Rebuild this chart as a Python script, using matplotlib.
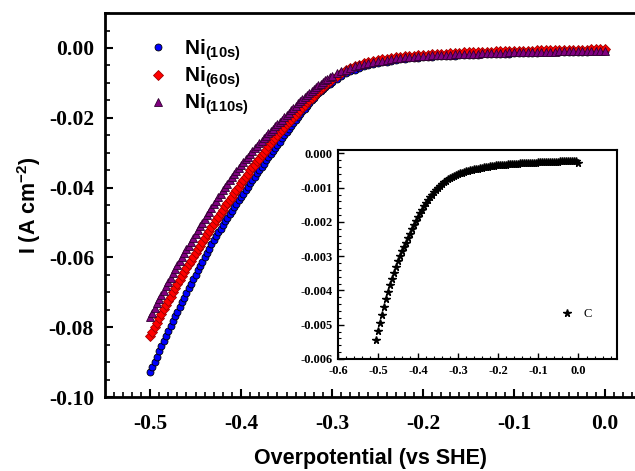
import matplotlib
matplotlib.use('Agg')
import matplotlib.pyplot as plt
from matplotlib.ticker import MultipleLocator, FuncFormatter

plt.rcParams['axes.unicode_minus'] = False
plt.rcParams['mathtext.fontset'] = 'custom'
plt.rcParams['mathtext.rm'] = 'Liberation Sans:bold'
plt.rcParams['mathtext.it'] = 'Liberation Sans:bold'
plt.rcParams['mathtext.bf'] = 'Liberation Sans:bold'

# potential (V vs SHE) for the Ni samples: finer steps on the steep part
potential = [
    -0.5000, -0.4975, -0.4950, -0.4925, -0.4900, -0.4875, -0.4850, -0.4825, -0.4800, -0.4775,
    -0.4750, -0.4725, -0.4700, -0.4675, -0.4650, -0.4625, -0.4600, -0.4575, -0.4550, -0.4525,
    -0.4500, -0.4475, -0.4450, -0.4425, -0.4400, -0.4375, -0.4350, -0.4325, -0.4300, -0.4275,
    -0.4250, -0.4225, -0.4200, -0.4175, -0.4150, -0.4125, -0.4100, -0.4075, -0.4050, -0.4025,
    -0.4000, -0.3975, -0.3950, -0.3925, -0.3900, -0.3875, -0.3850, -0.3825, -0.3800, -0.3775,
    -0.3750, -0.3725, -0.3700, -0.3675, -0.3650, -0.3625, -0.3600, -0.3575, -0.3550, -0.3525,
    -0.3500, -0.3475, -0.3450, -0.3425, -0.3400, -0.3375, -0.3350, -0.3325, -0.3300, -0.3275,
    -0.3250, -0.3225, -0.3200, -0.3175, -0.3150, -0.3125, -0.3100, -0.3075, -0.3050, -0.3025,
    -0.3000,
    -0.295, -0.290, -0.285, -0.280, -0.275, -0.270, -0.265, -0.260, -0.255,
    -0.250, -0.245, -0.240, -0.235, -0.230, -0.225, -0.220, -0.215, -0.210, -0.205,
    -0.200, -0.195, -0.190, -0.185, -0.180, -0.175, -0.170, -0.165, -0.160, -0.155,
    -0.150, -0.145, -0.140, -0.135, -0.130, -0.125, -0.120, -0.115, -0.110, -0.105,
    -0.100, -0.095, -0.090, -0.085, -0.080, -0.075, -0.070, -0.065, -0.060, -0.055,
    -0.050, -0.045, -0.040, -0.035, -0.030, -0.025, -0.020, -0.015, -0.010, -0.005,
    0.000]

ni_10s = [
    -0.0929, -0.0914, -0.0899, -0.0884, -0.0869, -0.0855, -0.0840, -0.0826, -0.0811, -0.0797,
    -0.0783, -0.0769, -0.0755, -0.0742, -0.0728, -0.0715, -0.0701, -0.0688, -0.0675, -0.0662,
    -0.0649, -0.0637, -0.0624, -0.0612, -0.0599, -0.0587, -0.0575, -0.0563, -0.0551, -0.0540,
    -0.0528, -0.0518, -0.0507, -0.0496, -0.0486, -0.0476, -0.0466, -0.0456, -0.0446, -0.0436,
    -0.0426, -0.0417, -0.0407, -0.0397, -0.0388, -0.0378, -0.0369, -0.0359, -0.0350, -0.0340,
    -0.0331, -0.0322, -0.0313, -0.0304, -0.0295, -0.0286, -0.0277, -0.0268, -0.0259, -0.0250,
    -0.0241, -0.0232, -0.0224, -0.0215, -0.0207, -0.0198, -0.0190, -0.0182, -0.0174, -0.0166,
    -0.0158, -0.0150, -0.0143, -0.0136, -0.0130, -0.0124, -0.0118, -0.0112, -0.0107, -0.0102,
    -0.0097,
    -0.0088, -0.0080, -0.0073, -0.0067, -0.0062, -0.0057, -0.0053, -0.0049, -0.0046,
    -0.0043, -0.0041, -0.0039, -0.0037, -0.0035, -0.0033, -0.0032, -0.0030, -0.0029, -0.0028,
    -0.0027, -0.0026, -0.0025, -0.0024, -0.0024, -0.0023, -0.0022, -0.0022, -0.0021, -0.0020,
    -0.0020, -0.0019, -0.0019, -0.0018, -0.0018, -0.0017, -0.0017, -0.0016, -0.0016, -0.0016,
    -0.0015, -0.0015, -0.0015, -0.0014, -0.0014, -0.0014, -0.0013, -0.0013, -0.0013, -0.0012,
    -0.0012, -0.0012, -0.0012, -0.0011, -0.0011, -0.0011, -0.0011, -0.0010, -0.0010, -0.0010,
    -0.0010]

ni_60s = [
    -0.0826, -0.0813, -0.0800, -0.0787, -0.0774, -0.0761, -0.0749, -0.0736, -0.0724, -0.0712,
    -0.0700, -0.0688, -0.0677, -0.0665, -0.0654, -0.0642, -0.0631, -0.0620, -0.0609, -0.0598,
    -0.0587, -0.0576, -0.0566, -0.0555, -0.0545, -0.0534, -0.0524, -0.0514, -0.0504, -0.0494,
    -0.0484, -0.0474, -0.0464, -0.0454, -0.0445, -0.0435, -0.0426, -0.0416, -0.0407, -0.0397,
    -0.0388, -0.0378, -0.0369, -0.0360, -0.0351, -0.0342, -0.0334, -0.0325, -0.0317, -0.0308,
    -0.0300, -0.0291, -0.0282, -0.0273, -0.0265, -0.0257, -0.0249, -0.0241, -0.0234, -0.0226,
    -0.0219, -0.0212, -0.0205, -0.0198, -0.0191, -0.0184, -0.0177, -0.0170, -0.0163, -0.0156,
    -0.0150, -0.0143, -0.0137, -0.0130, -0.0124, -0.0118, -0.0112, -0.0106, -0.0100, -0.0094,
    -0.0089,
    -0.0079, -0.0071, -0.0064, -0.0058, -0.0052, -0.0048, -0.0044, -0.0041, -0.0038,
    -0.0035, -0.0033, -0.0031, -0.0029, -0.0027, -0.0025, -0.0024, -0.0023, -0.0022, -0.0021,
    -0.0020, -0.0019, -0.0018, -0.0017, -0.0016, -0.0016, -0.0015, -0.0014, -0.0014, -0.0013,
    -0.0013, -0.0012, -0.0012, -0.0011, -0.0011, -0.0011, -0.0010, -0.0010, -0.0010, -0.0009,
    -0.0009, -0.0009, -0.0008, -0.0008, -0.0008, -0.0007, -0.0007, -0.0007, -0.0007, -0.0006,
    -0.0006, -0.0006, -0.0006, -0.0005, -0.0005, -0.0005, -0.0005, -0.0004, -0.0004, -0.0004,
    -0.0004]

ni_110s = [
    -0.0771, -0.0758, -0.0745, -0.0732, -0.0720, -0.0707, -0.0695, -0.0682, -0.0670, -0.0658,
    -0.0646, -0.0634, -0.0623, -0.0611, -0.0600, -0.0588, -0.0577, -0.0566, -0.0555, -0.0544,
    -0.0533, -0.0522, -0.0511, -0.0500, -0.0490, -0.0479, -0.0469, -0.0458, -0.0448, -0.0438,
    -0.0428, -0.0418, -0.0408, -0.0398, -0.0389, -0.0379, -0.0370, -0.0361, -0.0352, -0.0343,
    -0.0335, -0.0327, -0.0319, -0.0311, -0.0303, -0.0295, -0.0288, -0.0280, -0.0273, -0.0266,
    -0.0259, -0.0252, -0.0245, -0.0238, -0.0231, -0.0224, -0.0218, -0.0211, -0.0205, -0.0198,
    -0.0192, -0.0185, -0.0179, -0.0172, -0.0166, -0.0159, -0.0153, -0.0147, -0.0141, -0.0135,
    -0.0129, -0.0123, -0.0118, -0.0112, -0.0107, -0.0102, -0.0097, -0.0092, -0.0088, -0.0084,
    -0.0080,
    -0.0073, -0.0067, -0.0062, -0.0057, -0.0053, -0.0049, -0.0046, -0.0043, -0.0040,
    -0.0038, -0.0036, -0.0034, -0.0032, -0.0030, -0.0029, -0.0027, -0.0026, -0.0025, -0.0024,
    -0.0023, -0.0022, -0.0021, -0.0021, -0.0020, -0.0019, -0.0019, -0.0018, -0.0018, -0.0017,
    -0.0017, -0.0016, -0.0016, -0.0015, -0.0015, -0.0015, -0.0014, -0.0014, -0.0014, -0.0013,
    -0.0013, -0.0013, -0.0012, -0.0012, -0.0012, -0.0012, -0.0011, -0.0011, -0.0011, -0.0011,
    -0.0010, -0.0010, -0.0010, -0.0010, -0.0009, -0.0009, -0.0009, -0.0009, -0.0008, -0.0008,
    -0.0008]

# inset: sample C
potential_c = [
    -0.505,
    -0.500, -0.495, -0.490, -0.485, -0.480, -0.475, -0.470, -0.465, -0.460, -0.455,
    -0.450, -0.445, -0.440, -0.435, -0.430, -0.425, -0.420, -0.415, -0.410, -0.405,
    -0.400, -0.395, -0.390, -0.385, -0.380, -0.375, -0.370, -0.365, -0.360, -0.355,
    -0.350, -0.345, -0.340, -0.335, -0.330, -0.325, -0.320, -0.315, -0.310, -0.305,
    -0.300, -0.295, -0.290, -0.285, -0.280, -0.275, -0.270, -0.265, -0.260, -0.255,
    -0.250, -0.245, -0.240, -0.235, -0.230, -0.225, -0.220, -0.215, -0.210, -0.205,
    -0.200, -0.195, -0.190, -0.185, -0.180, -0.175, -0.170, -0.165, -0.160, -0.155,
    -0.150, -0.145, -0.140, -0.135, -0.130, -0.125, -0.120, -0.115, -0.110, -0.105,
    -0.100, -0.095, -0.090, -0.085, -0.080, -0.075, -0.070, -0.065, -0.060, -0.055,
    -0.050, -0.045, -0.040, -0.035, -0.030, -0.025, -0.020, -0.015, -0.010, -0.005,
    0.000]
current_c = [
    -0.00544,
    -0.00519, -0.00495, -0.00471, -0.00448, -0.00426, -0.00405, -0.00385, -0.00366, -0.00348, -0.00331,
    -0.00315, -0.00300, -0.00286, -0.00273, -0.00260, -0.00247, -0.00234, -0.00221, -0.00208, -0.00196,
    -0.00185, -0.00174, -0.00164, -0.00154, -0.00145, -0.00136, -0.00128, -0.00120, -0.00113, -0.00106,
    -0.00100, -0.00094, -0.00089, -0.00084, -0.00080, -0.00076, -0.00072, -0.00069, -0.00066, -0.00063,
    -0.00061, -0.00058, -0.00056, -0.00054, -0.00052, -0.00050, -0.00049, -0.00047, -0.00046, -0.00045,
    -0.00044, -0.00043, -0.00042, -0.00041, -0.00040, -0.00039, -0.00038, -0.00037, -0.00036, -0.00035,
    -0.00035, -0.00034, -0.00034, -0.00033, -0.00033, -0.00032, -0.00032, -0.00031, -0.00031, -0.00030,
    -0.00030, -0.00029, -0.00029, -0.00029, -0.00028, -0.00028, -0.00028, -0.00027, -0.00027, -0.00027,
    -0.00026, -0.00026, -0.00026, -0.00025, -0.00025, -0.00025, -0.00025, -0.00024, -0.00024, -0.00024,
    -0.00024, -0.00023, -0.00023, -0.00023, -0.00023, -0.00022, -0.00022, -0.00022, -0.00022, -0.00021,
    -0.00027]

labels = [r'Ni$_{(10s)}$', r'Ni$_{(60s)}$', r'Ni$_{(110s)}$']

serif_bold = {'family': 'Liberation Serif', 'weight': 'bold'}
sans_bold = {'family': 'Liberation Sans', 'weight': 'bold'}


def fmt(decimals):
    def f(v, pos):
        s = '%.*f' % (decimals, v)
        if s.startswith('-') and float(s) == 0:
            s = s[1:]
        return s
    return FuncFormatter(f)


fig = plt.figure(figsize=(6.35, 4.71), dpi=100)
ax = fig.add_axes([0.1654, 0.157, 0.8346, 0.8153])

ax.plot(potential, ni_10s, 'o', ms=5, mfc='#0000ff', mec='black', mew=0.6, label=labels[0])
ax.plot(potential, ni_60s, 'D', ms=4.6, mfc='#ff0000', mec='#a00000', mew=0.6, label=labels[1])
ax.plot(potential, ni_110s, '^', ms=5.5, mfc='#800080', mec='#300030', mew=0.6, label=labels[2])

ax.set_xlim(-0.5495, 0.033)
ax.set_ylim(-0.10, 0.01)
ax.xaxis.set_major_locator(MultipleLocator(0.1))
ax.xaxis.set_minor_locator(MultipleLocator(0.01))
ax.yaxis.set_major_locator(MultipleLocator(0.02))
ax.yaxis.set_minor_locator(MultipleLocator(0.005))
ax.xaxis.set_major_formatter(fmt(1))
ax.yaxis.set_major_formatter(fmt(2))
ax.tick_params(which='major', direction='in', length=6, width=1.5)
ax.tick_params(axis='x', which='major', pad=12)
ax.tick_params(axis='y', which='major', pad=8)
ax.tick_params(which='minor', direction='in', length=3.5, width=1.2)
ax.tick_params(top=False, right=False, which='both')
for lab in ax.get_xticklabels() + ax.get_yticklabels():
    lab.set_fontproperties(serif_bold)
    lab.set_fontsize(15.5)
for side in ['left', 'bottom', 'top']:
    ax.spines[side].set_linewidth(2)
ax.spines['right'].set_visible(False)

ax.set_xlabel('Overpotential (vs SHE)', fontsize=15.5, labelpad=10, **sans_bold)
ax.set_ylabel(r'I (A cm$^{-2}$)', fontsize=15.5, labelpad=4, **sans_bold)

leg = ax.legend(loc='upper left', bbox_to_anchor=(0.045, 0.985), frameon=False,
                handlelength=1.0, handletextpad=0.75, labelspacing=0.08,
                prop={'family': 'Liberation Sans', 'weight': 'bold', 'size': 15})

# inset
axi = fig.add_axes([0.532, 0.2378, 0.439, 0.4437])
axi.plot(potential_c, current_c, '*', ms=5.5, color='black', label='C')
axi.set_xlim(-0.6, 0.095)
axi.set_ylim(-0.006, 0.0001)
axi.xaxis.set_major_locator(MultipleLocator(0.1))
axi.xaxis.set_minor_locator(MultipleLocator(0.02))
axi.yaxis.set_major_locator(MultipleLocator(0.001))
axi.yaxis.set_minor_locator(MultipleLocator(0.0002))
axi.xaxis.set_major_formatter(fmt(1))
axi.yaxis.set_major_formatter(fmt(3))
axi.tick_params(which='major', direction='in', length=4, width=1.0, pad=4)
axi.tick_params(which='minor', direction='in', length=2, width=0.8)
for lab in axi.get_xticklabels() + axi.get_yticklabels():
    lab.set_fontproperties(serif_bold)
    lab.set_fontsize(9)
for side in axi.spines:
    axi.spines[side].set_linewidth(1.5)
axi.legend(loc='center left', bbox_to_anchor=(0.76, 0.215), frameon=False,
           handlelength=1.0, handletextpad=0.8,
           prop={'family': 'Liberation Serif', 'size': 9})

fig.savefig('out.png', dpi=100)
